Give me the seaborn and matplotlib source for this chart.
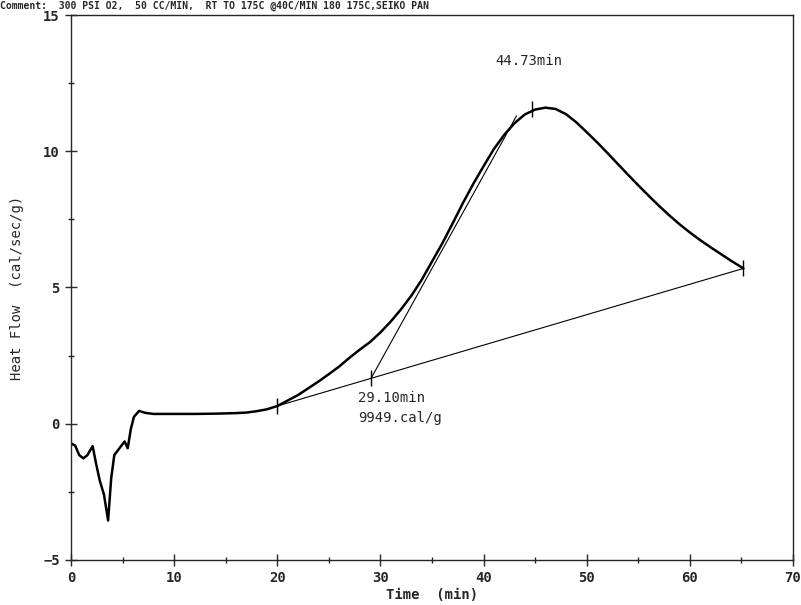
import matplotlib
matplotlib.use("Agg")
import matplotlib.pyplot as plt
import seaborn as sns
import pandas as pd
from matplotlib.ticker import MultipleLocator

# DSC trace
time_min = [0, 0.4, 0.8, 1.2, 1.6, 2.1, 2.4, 2.8, 3.2, 3.6, 3.9, 4.2, 4.7, 5.2, 5.5,
            5.8, 6.1, 6.6, 7.2, 8, 10, 12, 14, 16, 17, 18, 19, 20, 21, 22, 23, 24,
            25, 26, 27, 28, 29, 30, 31, 32, 33, 34, 35, 36, 37, 38, 39, 40, 41, 42,
            43, 44, 45, 46, 47, 48, 49, 50, 51, 52, 53, 54, 55, 56, 57, 58, 59, 60,
            61, 62, 63, 64, 65.2]
heat_flow = [-0.72, -0.8, -1.15, -1.27, -1.15, -0.82, -1.4, -2.1, -2.6, -3.55, -2.0,
             -1.15, -0.9, -0.65, -0.9, -0.2, 0.25, 0.47, 0.4, 0.36, 0.36, 0.36, 0.37,
             0.39, 0.41, 0.46, 0.53, 0.65, 0.85, 1.05, 1.3, 1.55, 1.82, 2.1, 2.42,
             2.72, 3.0, 3.35, 3.75, 4.2, 4.7, 5.28, 5.95, 6.62, 7.35, 8.1, 8.8, 9.45,
             10.08, 10.6, 11.03, 11.35, 11.53, 11.6, 11.55, 11.36, 11.06, 10.7, 10.33,
             9.94, 9.54, 9.14, 8.75, 8.37, 8.0, 7.65, 7.32, 7.02, 6.74, 6.48, 6.23,
             5.98, 5.7]

# baseline, onset tangent and marked points
baseline_t = [20, 65.2]
baseline_v = [0.65, 5.7]
tangent_t = [29.1, 43.2]
tangent_v = [1.67, 11.3]
mark_t = [20, 29.1, 44.73, 65.2]
mark_v = [0.65, 1.67, 11.55, 5.7]

comment = "Comment:  300 PSI O2,  50 CC/MIN,  RT TO 175C @40C/MIN 180 175C,SEIKO PAN"

sns.set_style("ticks")
plt.rcParams['font.family'] = ['DejaVu Sans Mono', 'DejaVu Sans']

df = pd.DataFrame({'t': time_min, 'q': heat_flow})

fig = plt.figure(figsize=(8.01, 6.05), dpi=100)
ax = fig.add_axes([0.0886, 0.0744, 0.9014, 0.9008])

sns.lineplot(data=df, x='t', y='q', color='black', linewidth=1.8, ax=ax, sort=False)
ax.plot(baseline_t, baseline_v, color='black', linewidth=0.8)
ax.plot(tangent_t, tangent_v, color='black', linewidth=0.8)
ax.plot(mark_t, mark_v, linestyle='none', marker='|', markersize=11,
        markeredgewidth=1.0, color='black')

ax.text(41.1, 13.3, "44.73min", fontsize=10, va='center', ha='left')
ax.text(27.8, 0.94, "29.10min", fontsize=10, va='center', ha='left')
ax.text(27.8, 0.22, "9949.cal/g", fontsize=10, va='center', ha='left')

ax.set_xlim(0, 70)
ax.set_ylim(-5, 15)
ax.xaxis.set_major_locator(MultipleLocator(10))
ax.xaxis.set_minor_locator(MultipleLocator(5))
ax.yaxis.set_major_locator(MultipleLocator(5))
ax.yaxis.set_minor_locator(MultipleLocator(2.5))
ax.tick_params(which='major', direction='inout', length=9, width=1, labelsize=10)
ax.tick_params(which='minor', direction='inout', length=5, width=1)
for lab in ax.get_xticklabels() + ax.get_yticklabels():
    lab.set_fontweight('bold')

for side in ['left', 'right', 'top', 'bottom']:
    ax.spines[side].set_visible(True)
    ax.spines[side].set_linewidth(1.0)
    ax.spines[side].set_linestyle((0, (8, 1)))

ax.set_xlabel("Time  (min)", fontsize=10, fontweight='bold', labelpad=2)
ax.set_ylabel("Heat Flow  (cal/sec/g)", fontsize=10, labelpad=14)

fig.text(0.0, 0.9995, comment, fontsize=7, fontweight='bold', ha='left', va='top')

fig.savefig("out.png", dpi=100)
